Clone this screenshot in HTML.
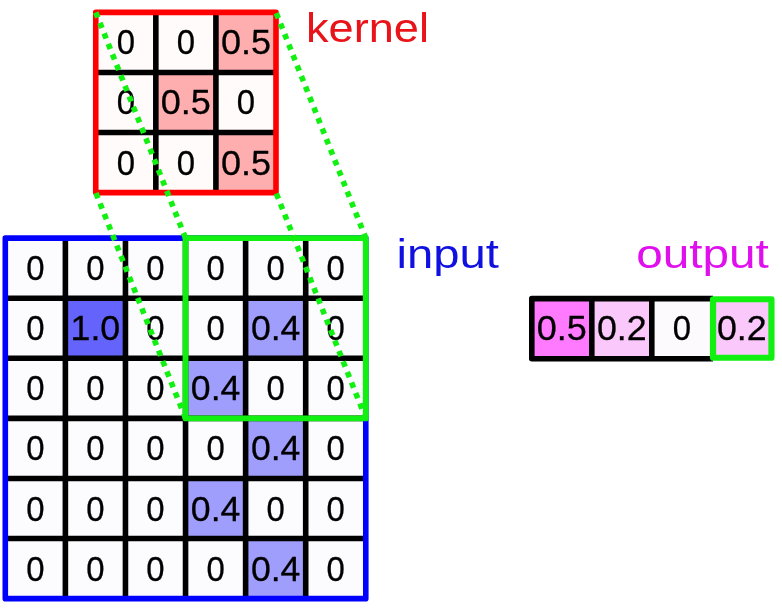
<!DOCTYPE html>
<html><head><meta charset="utf-8"><style>
html,body{margin:0;padding:0;background:#fff;width:782px;height:610px;overflow:hidden}
svg{display:block;font-family:"Liberation Sans", sans-serif;will-change:transform}
</style></head><body>
<svg width="782" height="610" viewBox="0 0 782 610">
<rect x="0" y="0" width="782" height="610" fill="#ffffff"/>
<rect x="95.75" y="12.35" width="60.08" height="60.08" fill="#fffbfa"/>
<rect x="155.83" y="12.35" width="60.08" height="60.08" fill="#fffbfa"/>
<rect x="215.91" y="12.35" width="60.08" height="60.08" fill="#ffaeb0"/>
<rect x="95.75" y="72.43" width="60.08" height="60.08" fill="#fffbfa"/>
<rect x="155.83" y="72.43" width="60.08" height="60.08" fill="#ffaeb0"/>
<rect x="215.91" y="72.43" width="60.08" height="60.08" fill="#fffbfa"/>
<rect x="95.75" y="132.51" width="60.08" height="60.08" fill="#fffbfa"/>
<rect x="155.83" y="132.51" width="60.08" height="60.08" fill="#fffbfa"/>
<rect x="215.91" y="132.51" width="60.08" height="60.08" fill="#ffaeb0"/>
<line x1="95.75" y1="72.43" x2="275.99" y2="72.43" stroke="#000" stroke-width="5.6"/>
<line x1="95.75" y1="132.51" x2="275.99" y2="132.51" stroke="#000" stroke-width="5.6"/>
<line x1="155.83" y1="12.35" x2="155.83" y2="192.59" stroke="#000" stroke-width="5.6"/>
<line x1="215.91" y1="12.35" x2="215.91" y2="192.59" stroke="#000" stroke-width="5.6"/>
<text x="125.79" y="54.00" fill="#000" stroke="#000" stroke-width="0.3" font-size="35" text-anchor="middle" textLength="18.3" lengthAdjust="spacingAndGlyphs">0</text>
<text x="185.87" y="54.00" fill="#000" stroke="#000" stroke-width="0.3" font-size="35" text-anchor="middle" textLength="18.3" lengthAdjust="spacingAndGlyphs">0</text>
<text x="245.95" y="54.00" fill="#000" stroke="#000" stroke-width="0.3" font-size="35" text-anchor="middle" textLength="50.1" lengthAdjust="spacingAndGlyphs">0.5</text>
<text x="125.79" y="114.00" fill="#000" stroke="#000" stroke-width="0.3" font-size="35" text-anchor="middle" textLength="18.3" lengthAdjust="spacingAndGlyphs">0</text>
<text x="185.87" y="114.00" fill="#000" stroke="#000" stroke-width="0.3" font-size="35" text-anchor="middle" textLength="50.1" lengthAdjust="spacingAndGlyphs">0.5</text>
<text x="245.95" y="114.00" fill="#000" stroke="#000" stroke-width="0.3" font-size="35" text-anchor="middle" textLength="18.3" lengthAdjust="spacingAndGlyphs">0</text>
<text x="125.79" y="175.00" fill="#000" stroke="#000" stroke-width="0.3" font-size="35" text-anchor="middle" textLength="18.3" lengthAdjust="spacingAndGlyphs">0</text>
<text x="185.87" y="175.00" fill="#000" stroke="#000" stroke-width="0.3" font-size="35" text-anchor="middle" textLength="18.3" lengthAdjust="spacingAndGlyphs">0</text>
<text x="245.95" y="175.00" fill="#000" stroke="#000" stroke-width="0.3" font-size="35" text-anchor="middle" textLength="50.1" lengthAdjust="spacingAndGlyphs">0.5</text>
<rect x="95.75" y="12.35" width="180.24" height="180.24" fill="none" stroke="#ff0000" stroke-width="5.6" stroke-linejoin="round"/>
<rect x="5.30" y="238.15" width="60.08" height="60.08" fill="#fcfcff"/>
<rect x="65.38" y="238.15" width="60.08" height="60.08" fill="#fcfcff"/>
<rect x="125.46" y="238.15" width="60.08" height="60.08" fill="#fcfcff"/>
<rect x="185.54" y="238.15" width="60.08" height="60.08" fill="#fcfcff"/>
<rect x="245.62" y="238.15" width="60.08" height="60.08" fill="#fcfcff"/>
<rect x="305.70" y="238.15" width="60.08" height="60.08" fill="#fcfcff"/>
<rect x="5.30" y="298.23" width="60.08" height="60.08" fill="#fcfcff"/>
<rect x="65.38" y="298.23" width="60.08" height="60.08" fill="#6464fc"/>
<rect x="125.46" y="298.23" width="60.08" height="60.08" fill="#fcfcff"/>
<rect x="185.54" y="298.23" width="60.08" height="60.08" fill="#fcfcff"/>
<rect x="245.62" y="298.23" width="60.08" height="60.08" fill="#a09efc"/>
<rect x="305.70" y="298.23" width="60.08" height="60.08" fill="#fcfcff"/>
<rect x="5.30" y="358.31" width="60.08" height="60.08" fill="#fcfcff"/>
<rect x="65.38" y="358.31" width="60.08" height="60.08" fill="#fcfcff"/>
<rect x="125.46" y="358.31" width="60.08" height="60.08" fill="#fcfcff"/>
<rect x="185.54" y="358.31" width="60.08" height="60.08" fill="#a09efc"/>
<rect x="245.62" y="358.31" width="60.08" height="60.08" fill="#fcfcff"/>
<rect x="305.70" y="358.31" width="60.08" height="60.08" fill="#fcfcff"/>
<rect x="5.30" y="418.39" width="60.08" height="60.08" fill="#fcfcff"/>
<rect x="65.38" y="418.39" width="60.08" height="60.08" fill="#fcfcff"/>
<rect x="125.46" y="418.39" width="60.08" height="60.08" fill="#fcfcff"/>
<rect x="185.54" y="418.39" width="60.08" height="60.08" fill="#fcfcff"/>
<rect x="245.62" y="418.39" width="60.08" height="60.08" fill="#a09efc"/>
<rect x="305.70" y="418.39" width="60.08" height="60.08" fill="#fcfcff"/>
<rect x="5.30" y="478.47" width="60.08" height="60.08" fill="#fcfcff"/>
<rect x="65.38" y="478.47" width="60.08" height="60.08" fill="#fcfcff"/>
<rect x="125.46" y="478.47" width="60.08" height="60.08" fill="#fcfcff"/>
<rect x="185.54" y="478.47" width="60.08" height="60.08" fill="#a09efc"/>
<rect x="245.62" y="478.47" width="60.08" height="60.08" fill="#fcfcff"/>
<rect x="305.70" y="478.47" width="60.08" height="60.08" fill="#fcfcff"/>
<rect x="5.30" y="538.55" width="60.08" height="60.08" fill="#fcfcff"/>
<rect x="65.38" y="538.55" width="60.08" height="60.08" fill="#fcfcff"/>
<rect x="125.46" y="538.55" width="60.08" height="60.08" fill="#fcfcff"/>
<rect x="185.54" y="538.55" width="60.08" height="60.08" fill="#fcfcff"/>
<rect x="245.62" y="538.55" width="60.08" height="60.08" fill="#a09efc"/>
<rect x="305.70" y="538.55" width="60.08" height="60.08" fill="#fcfcff"/>
<line x1="5.30" y1="298.23" x2="365.78" y2="298.23" stroke="#000" stroke-width="5.6"/>
<line x1="5.30" y1="358.31" x2="365.78" y2="358.31" stroke="#000" stroke-width="5.6"/>
<line x1="5.30" y1="418.39" x2="365.78" y2="418.39" stroke="#000" stroke-width="5.6"/>
<line x1="5.30" y1="478.47" x2="365.78" y2="478.47" stroke="#000" stroke-width="5.6"/>
<line x1="5.30" y1="538.55" x2="365.78" y2="538.55" stroke="#000" stroke-width="5.6"/>
<line x1="65.38" y1="238.15" x2="65.38" y2="598.63" stroke="#000" stroke-width="5.6"/>
<line x1="125.46" y1="238.15" x2="125.46" y2="598.63" stroke="#000" stroke-width="5.6"/>
<line x1="185.54" y1="238.15" x2="185.54" y2="598.63" stroke="#000" stroke-width="5.6"/>
<line x1="245.62" y1="238.15" x2="245.62" y2="598.63" stroke="#000" stroke-width="5.6"/>
<line x1="305.70" y1="238.15" x2="305.70" y2="598.63" stroke="#000" stroke-width="5.6"/>
<text x="35.34" y="280.00" fill="#000" stroke="#000" stroke-width="0.3" font-size="35" text-anchor="middle" textLength="18.3" lengthAdjust="spacingAndGlyphs">0</text>
<text x="95.42" y="280.00" fill="#000" stroke="#000" stroke-width="0.3" font-size="35" text-anchor="middle" textLength="18.3" lengthAdjust="spacingAndGlyphs">0</text>
<text x="155.50" y="280.00" fill="#000" stroke="#000" stroke-width="0.3" font-size="35" text-anchor="middle" textLength="18.3" lengthAdjust="spacingAndGlyphs">0</text>
<text x="215.58" y="280.00" fill="#000" stroke="#000" stroke-width="0.3" font-size="35" text-anchor="middle" textLength="18.3" lengthAdjust="spacingAndGlyphs">0</text>
<text x="275.66" y="280.00" fill="#000" stroke="#000" stroke-width="0.3" font-size="35" text-anchor="middle" textLength="18.3" lengthAdjust="spacingAndGlyphs">0</text>
<text x="335.74" y="280.00" fill="#000" stroke="#000" stroke-width="0.3" font-size="35" text-anchor="middle" textLength="18.3" lengthAdjust="spacingAndGlyphs">0</text>
<text x="35.34" y="340.00" fill="#000" stroke="#000" stroke-width="0.3" font-size="35" text-anchor="middle" textLength="18.3" lengthAdjust="spacingAndGlyphs">0</text>
<text x="95.42" y="340.00" fill="#000" stroke="#000" stroke-width="0.3" font-size="35" text-anchor="middle" textLength="49.6" lengthAdjust="spacingAndGlyphs">1.0</text>
<text x="155.50" y="340.00" fill="#000" stroke="#000" stroke-width="0.3" font-size="35" text-anchor="middle" textLength="18.3" lengthAdjust="spacingAndGlyphs">0</text>
<text x="215.58" y="340.00" fill="#000" stroke="#000" stroke-width="0.3" font-size="35" text-anchor="middle" textLength="18.3" lengthAdjust="spacingAndGlyphs">0</text>
<text x="275.66" y="340.00" fill="#000" stroke="#000" stroke-width="0.3" font-size="35" text-anchor="middle" textLength="49.5" lengthAdjust="spacingAndGlyphs">0.4</text>
<text x="335.74" y="340.00" fill="#000" stroke="#000" stroke-width="0.3" font-size="35" text-anchor="middle" textLength="18.3" lengthAdjust="spacingAndGlyphs">0</text>
<text x="35.34" y="400.00" fill="#000" stroke="#000" stroke-width="0.3" font-size="35" text-anchor="middle" textLength="18.3" lengthAdjust="spacingAndGlyphs">0</text>
<text x="95.42" y="400.00" fill="#000" stroke="#000" stroke-width="0.3" font-size="35" text-anchor="middle" textLength="18.3" lengthAdjust="spacingAndGlyphs">0</text>
<text x="155.50" y="400.00" fill="#000" stroke="#000" stroke-width="0.3" font-size="35" text-anchor="middle" textLength="18.3" lengthAdjust="spacingAndGlyphs">0</text>
<text x="215.58" y="400.00" fill="#000" stroke="#000" stroke-width="0.3" font-size="35" text-anchor="middle" textLength="49.5" lengthAdjust="spacingAndGlyphs">0.4</text>
<text x="275.66" y="400.00" fill="#000" stroke="#000" stroke-width="0.3" font-size="35" text-anchor="middle" textLength="18.3" lengthAdjust="spacingAndGlyphs">0</text>
<text x="335.74" y="400.00" fill="#000" stroke="#000" stroke-width="0.3" font-size="35" text-anchor="middle" textLength="18.3" lengthAdjust="spacingAndGlyphs">0</text>
<text x="35.34" y="460.00" fill="#000" stroke="#000" stroke-width="0.3" font-size="35" text-anchor="middle" textLength="18.3" lengthAdjust="spacingAndGlyphs">0</text>
<text x="95.42" y="460.00" fill="#000" stroke="#000" stroke-width="0.3" font-size="35" text-anchor="middle" textLength="18.3" lengthAdjust="spacingAndGlyphs">0</text>
<text x="155.50" y="460.00" fill="#000" stroke="#000" stroke-width="0.3" font-size="35" text-anchor="middle" textLength="18.3" lengthAdjust="spacingAndGlyphs">0</text>
<text x="215.58" y="460.00" fill="#000" stroke="#000" stroke-width="0.3" font-size="35" text-anchor="middle" textLength="18.3" lengthAdjust="spacingAndGlyphs">0</text>
<text x="275.66" y="460.00" fill="#000" stroke="#000" stroke-width="0.3" font-size="35" text-anchor="middle" textLength="49.5" lengthAdjust="spacingAndGlyphs">0.4</text>
<text x="335.74" y="460.00" fill="#000" stroke="#000" stroke-width="0.3" font-size="35" text-anchor="middle" textLength="18.3" lengthAdjust="spacingAndGlyphs">0</text>
<text x="35.34" y="521.00" fill="#000" stroke="#000" stroke-width="0.3" font-size="35" text-anchor="middle" textLength="18.3" lengthAdjust="spacingAndGlyphs">0</text>
<text x="95.42" y="521.00" fill="#000" stroke="#000" stroke-width="0.3" font-size="35" text-anchor="middle" textLength="18.3" lengthAdjust="spacingAndGlyphs">0</text>
<text x="155.50" y="521.00" fill="#000" stroke="#000" stroke-width="0.3" font-size="35" text-anchor="middle" textLength="18.3" lengthAdjust="spacingAndGlyphs">0</text>
<text x="215.58" y="521.00" fill="#000" stroke="#000" stroke-width="0.3" font-size="35" text-anchor="middle" textLength="49.5" lengthAdjust="spacingAndGlyphs">0.4</text>
<text x="275.66" y="521.00" fill="#000" stroke="#000" stroke-width="0.3" font-size="35" text-anchor="middle" textLength="18.3" lengthAdjust="spacingAndGlyphs">0</text>
<text x="335.74" y="521.00" fill="#000" stroke="#000" stroke-width="0.3" font-size="35" text-anchor="middle" textLength="18.3" lengthAdjust="spacingAndGlyphs">0</text>
<text x="35.34" y="581.00" fill="#000" stroke="#000" stroke-width="0.3" font-size="35" text-anchor="middle" textLength="18.3" lengthAdjust="spacingAndGlyphs">0</text>
<text x="95.42" y="581.00" fill="#000" stroke="#000" stroke-width="0.3" font-size="35" text-anchor="middle" textLength="18.3" lengthAdjust="spacingAndGlyphs">0</text>
<text x="155.50" y="581.00" fill="#000" stroke="#000" stroke-width="0.3" font-size="35" text-anchor="middle" textLength="18.3" lengthAdjust="spacingAndGlyphs">0</text>
<text x="215.58" y="581.00" fill="#000" stroke="#000" stroke-width="0.3" font-size="35" text-anchor="middle" textLength="18.3" lengthAdjust="spacingAndGlyphs">0</text>
<text x="275.66" y="581.00" fill="#000" stroke="#000" stroke-width="0.3" font-size="35" text-anchor="middle" textLength="49.5" lengthAdjust="spacingAndGlyphs">0.4</text>
<text x="335.74" y="581.00" fill="#000" stroke="#000" stroke-width="0.3" font-size="35" text-anchor="middle" textLength="18.3" lengthAdjust="spacingAndGlyphs">0</text>
<rect x="5.30" y="238.15" width="360.48" height="360.48" fill="none" stroke="#0000ff" stroke-width="5.6" stroke-linejoin="round"/>
<rect x="531.80" y="298.60" width="60.00" height="60.08" fill="#ff7aff"/>
<rect x="591.80" y="298.60" width="60.00" height="60.08" fill="#fbc8fb"/>
<rect x="651.80" y="298.60" width="60.00" height="60.08" fill="#fdfafd"/>
<rect x="711.80" y="298.60" width="60.00" height="60.08" fill="#fbc8fb"/>
<line x1="591.80" y1="298.60" x2="591.80" y2="358.68" stroke="#000" stroke-width="5.6"/>
<line x1="651.80" y1="298.60" x2="651.80" y2="358.68" stroke="#000" stroke-width="5.6"/>
<text x="561.80" y="340.00" fill="#000" stroke="#000" stroke-width="0.3" font-size="35" text-anchor="middle" textLength="50.1" lengthAdjust="spacingAndGlyphs">0.5</text>
<text x="621.80" y="340.00" fill="#000" stroke="#000" stroke-width="0.3" font-size="35" text-anchor="middle" textLength="49.7" lengthAdjust="spacingAndGlyphs">0.2</text>
<text x="681.80" y="340.00" fill="#000" stroke="#000" stroke-width="0.3" font-size="35" text-anchor="middle" textLength="18.3" lengthAdjust="spacingAndGlyphs">0</text>
<text x="741.80" y="340.00" fill="#000" stroke="#000" stroke-width="0.3" font-size="35" text-anchor="middle" textLength="49.7" lengthAdjust="spacingAndGlyphs">0.2</text>
<path d="M713.00 298.60H531.80V358.68H713.00" fill="none" stroke="#000000" stroke-width="5.6" stroke-linejoin="round"/>
<rect x="185.54" y="238.15" width="180.24" height="180.24" fill="none" stroke="#12f012" stroke-width="5.8" stroke-linejoin="round"/>
<rect x="713.05" y="299.25" width="58.4" height="58.5" fill="none" stroke="#12f012" stroke-width="6.2" stroke-linejoin="round"/>
<line x1="95.75" y1="12.35" x2="185.54" y2="238.15" stroke="#12f012" stroke-width="5.6" stroke-dasharray="5.6 5.7" stroke-dashoffset="0"/>
<line x1="95.75" y1="192.59" x2="185.54" y2="418.39" stroke="#12f012" stroke-width="5.6" stroke-dasharray="5.6 5.7" stroke-dashoffset="-0.5"/>
<line x1="275.99" y1="12.35" x2="365.78" y2="238.15" stroke="#12f012" stroke-width="5.6" stroke-dasharray="5.6 5.7" stroke-dashoffset="-0.8"/>
<line x1="275.99" y1="192.59" x2="365.78" y2="418.39" stroke="#12f012" stroke-width="5.6" stroke-dasharray="5.6 5.7" stroke-dashoffset="-1.0"/>
<text x="306" y="41.8" fill="#e8141a" stroke="#e8141a" stroke-width="0" font-size="41" textLength="123" lengthAdjust="spacingAndGlyphs">kernel</text>
<text x="396.5" y="268" fill="#1010e0" stroke="#1010e0" stroke-width="0" font-size="41" textLength="102.5" lengthAdjust="spacingAndGlyphs">input</text>
<text x="636.2" y="268" fill="#e010ee" stroke="#e010ee" stroke-width="0" font-size="41" textLength="132.7" lengthAdjust="spacingAndGlyphs">output</text>
</svg>
</body></html>
